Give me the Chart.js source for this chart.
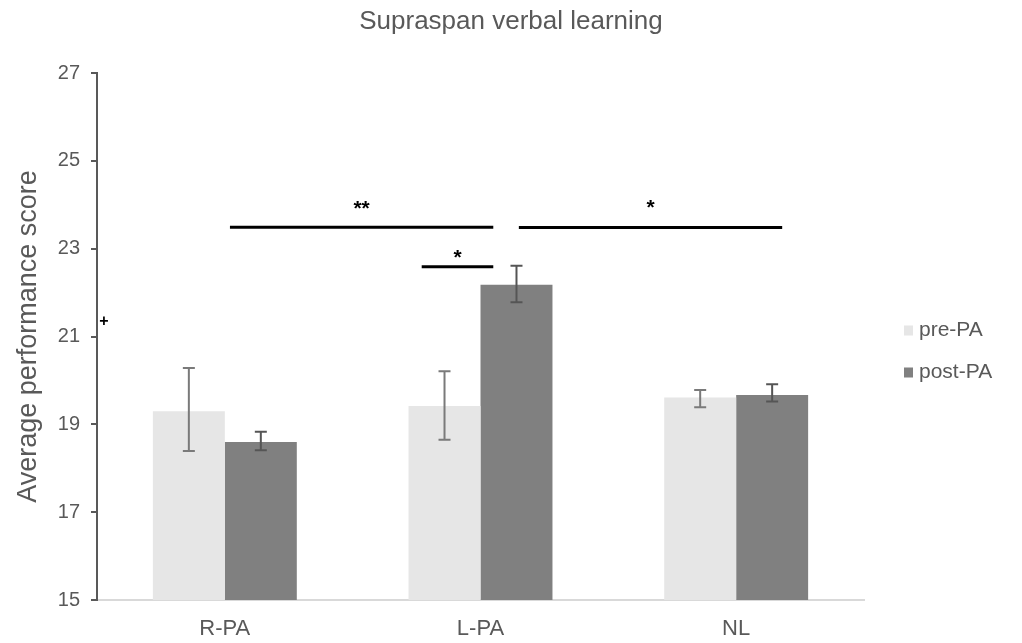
<!DOCTYPE html>
<html lang="en">
  <head>
    <meta charset="UTF-8" />
    <meta name="viewport" content="width=device-width, initial-scale=1.0" />
    <title>Supraspan verbal learning</title>
    <style>
      html,
      body {
        margin: 0;
        padding: 0;
        background: #fff;
      }

      .container {
        width: 1022px;
        height: 643px;
        position: relative;
      }
    </style>
  </head>
  <body>
    <div class="container">
      <canvas id="myChart"></canvas>
    </div>
    <script src="https://cdn.jsdelivr.net/npm/chart.js"></script>

    <script>
      // data
      const categories = ["R-PA", "L-PA", "NL"];
      const seriesNames = ["pre-PA", "post-PA"];
      const preMean = [19.3, 19.42, 19.61];
      const postMean = [18.6, 22.18, 19.67];
      const preLow = [18.39, 18.65, 19.39];
      const preHigh = [20.28, 20.21, 19.78];
      const postLow = [18.41, 21.78, 19.52];
      const postHigh = [18.83, 22.61, 19.91];
      const yTicks = [15, 17, 19, 21, 23, 25, 27];

      // significance brackets (x in category units, y in score units)
      const sigFrom = [0.02, 0.77, 1.15];
      const sigTo = [1.05, 1.05, 2.18];
      const sigLevel = [23.49, 22.59, 23.48];
      const sigText = ["**", "*", "*"];
      const sigTextLevel = [24.05, 22.92, 24.07];
      const strayPlus = 21.33;

      const chartTitle = "Supraspan verbal learning";
      const textGray = "#595959";
      const fontFamily = "'Liberation Sans', Arial, sans-serif";
      Chart.defaults.font.family = fontFamily;

      const errorBars = {
        id: "errorBars",
        afterDatasetsDraw(chart) {
          const { ctx, scales: { y } } = chart;
          const ranges = [
            [preLow, preHigh, "#7a7a7a"],
            [postLow, postHigh, "#555555"],
          ];
          ctx.save();
          ctx.lineWidth = 2;
          chart.data.datasets.forEach((ds, i) => {
            const meta = chart.getDatasetMeta(i);
            const [low, high, color] = ranges[i];
            ctx.strokeStyle = color;
            meta.data.forEach((bar, j) => {
              const yl = y.getPixelForValue(low[j]);
              const yh = y.getPixelForValue(high[j]);
              ctx.beginPath();
              ctx.moveTo(bar.x, yl);
              ctx.lineTo(bar.x, yh);
              ctx.moveTo(bar.x - 6, yl);
              ctx.lineTo(bar.x + 6, yl);
              ctx.moveTo(bar.x - 6, yh);
              ctx.lineTo(bar.x + 6, yh);
              ctx.stroke();
            });
          });
          ctx.restore();
        },
      };

      const sigMarks = {
        id: "sigMarks",
        afterDraw(chart) {
          const { ctx, chartArea, scales: { x, y } } = chart;
          const x0 = x.getPixelForValue(0);
          const step = x.getPixelForValue(1) - x0;
          ctx.save();
          ctx.strokeStyle = "#000";
          ctx.fillStyle = "#000";
          ctx.lineWidth = 3;
          ctx.textAlign = "center";
          ctx.textBaseline = "alphabetic";
          ctx.font = "bold 21px " + fontFamily;
          sigFrom.forEach((from, i) => {
            const xa = x0 + from * step;
            const xb = x0 + sigTo[i] * step;
            const yy = y.getPixelForValue(sigLevel[i]);
            ctx.beginPath();
            ctx.moveTo(xa, yy);
            ctx.lineTo(xb, yy);
            ctx.stroke();
            ctx.fillText(sigText[i], (xa + xb) / 2, y.getPixelForValue(sigTextLevel[i]) + 12);
          });
          // small stray cross next to the axis
          ctx.font = "bold 16px " + fontFamily;
          ctx.textBaseline = "middle";
          ctx.fillText("+", chartArea.left + 7, y.getPixelForValue(strayPlus));
          ctx.restore();
        },
      };

      // title centred on the whole figure, legend at the right
      const frame = {
        id: "frame",
        afterDraw(chart) {
          const { ctx, chartArea, width } = chart;
          ctx.save();
          ctx.fillStyle = textGray;
          ctx.textAlign = "center";
          ctx.textBaseline = "middle";
          ctx.font = "26px " + fontFamily;
          ctx.fillText(chartTitle, width / 2, 22);

          const lx = chartArea.right + 40;
          const ly = (chartArea.top + chartArea.bottom) / 2 - 6;
          ctx.font = "21px " + fontFamily;
          ctx.textAlign = "left";
          chart.data.datasets.forEach((ds, i) => {
            const yy = ly + i * 42;
            ctx.fillStyle = ds.backgroundColor;
            ctx.fillRect(lx, yy - 5, 9, 10);
            ctx.fillStyle = textGray;
            ctx.fillText(ds.label, lx + 15, yy);
          });
          ctx.restore();
        },
      };

      const ctx = document.getElementById("myChart");
      const myChart = new Chart(ctx, {
        type: "bar",
        data: {
          labels: categories,
          datasets: [
            {
              label: seriesNames[0],
              data: preMean,
              backgroundColor: "#e6e6e6",
              borderWidth: 0,
            },
            {
              label: seriesNames[1],
              data: postMean,
              backgroundColor: "#808080",
              borderWidth: 0,
            },
          ],
        },
        options: {
          responsive: true,
          maintainAspectRatio: false,
          animation: false,
          datasets: {
            bar: { categoryPercentage: 0.563, barPercentage: 1 },
          },
          layout: { padding: { left: 0, right: 158, top: 73, bottom: 0 } },
          plugins: {
            legend: { display: false },
            tooltip: { enabled: false },
            title: { display: false },
          },
          scales: {
            x: {
              grid: { display: false, drawTicks: false },
              border: { display: true, color: "#d9d9d9", width: 2 },
              ticks: { color: textGray, font: { size: 22 }, padding: 16 },
              afterFit(scale) {
                scale.height = 43;
              },
            },
            y: {
              min: yTicks[0],
              max: yTicks[yTicks.length - 1],
              afterBuildTicks(scale) {
                scale.ticks = yTicks.map((v) => ({ value: v }));
              },
              ticks: { color: textGray, font: { size: 20 }, padding: 11 },
              grid: {
                drawOnChartArea: false,
                drawTicks: true,
                tickLength: 6,
                color: "#595959",
                lineWidth: 2,
              },
              border: { display: true, color: "#595959", width: 2 },
              title: {
                display: true,
                text: "Average performance score",
                color: textGray,
                font: { size: 27 },
                padding: { top: 12, bottom: 0 },
              },
              afterFit(scale) {
                scale.width = 97;
              },
            },
          },
        },
        plugins: [errorBars, sigMarks, frame],
      });
    </script>
  </body>
</html>
